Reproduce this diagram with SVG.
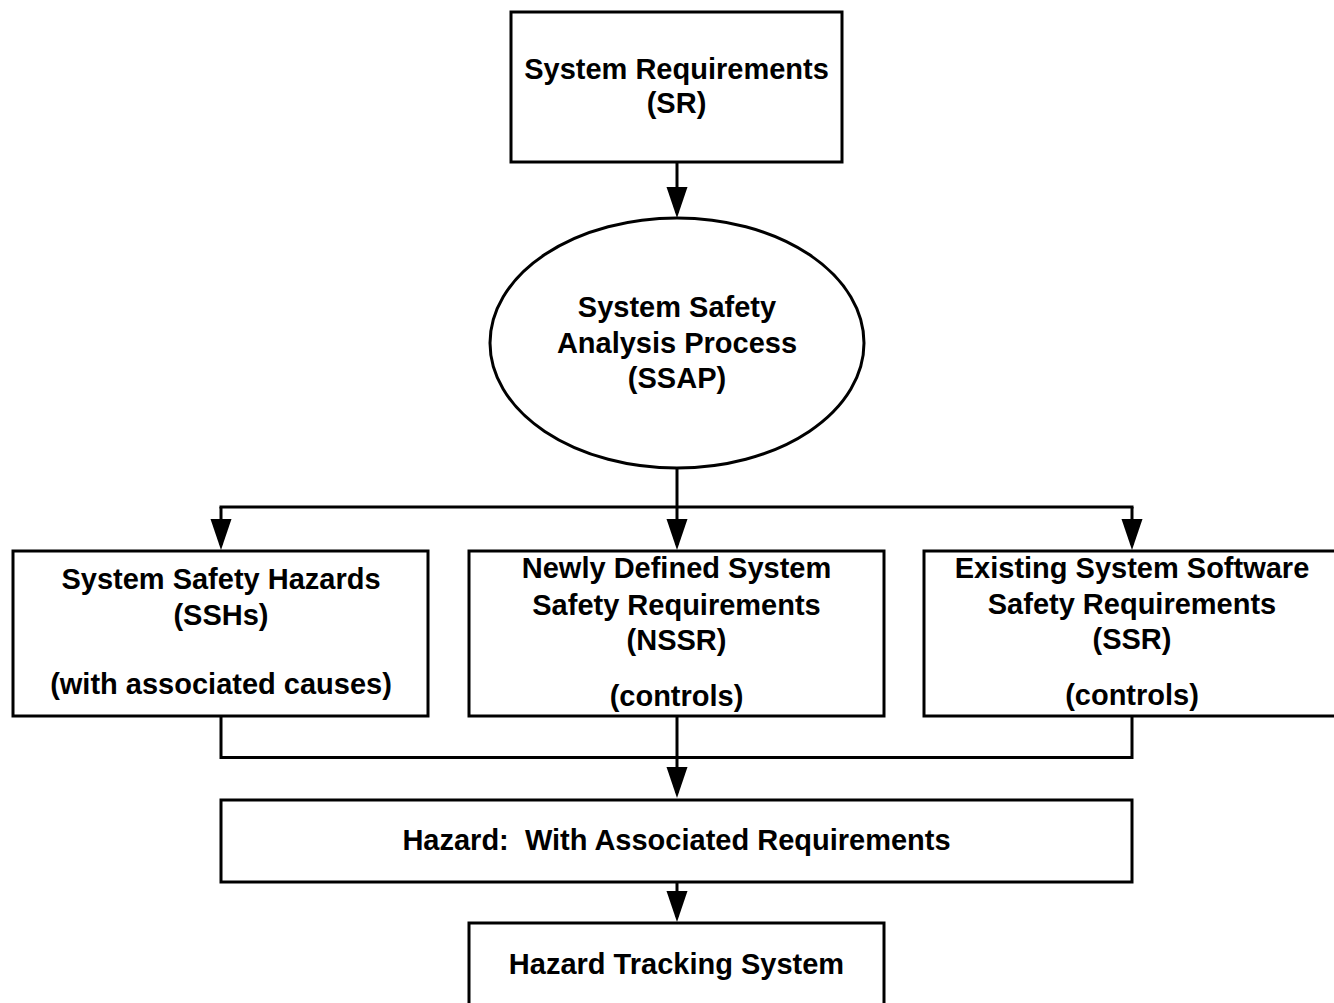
<svg xmlns="http://www.w3.org/2000/svg" width="1334" height="1003" viewBox="0 0 1334 1003">
<defs>
<style>
.box{fill:#fff;stroke:#000;stroke-width:3}
.ln{fill:none;stroke:#000;stroke-width:3}
.t{font-family:"Liberation Sans",Arial,sans-serif;font-weight:bold;font-size:29px;fill:#000;text-anchor:middle}
</style>
<marker id="ah" markerUnits="userSpaceOnUse" markerWidth="32" markerHeight="22" refX="26" refY="10.5" orient="auto" viewBox="0 0 32 22">
<path d="M0,0 L31,10.5 L0,21 Z" fill="#000"/>
</marker>
</defs>
<rect width="1334" height="1003" fill="#fff"/>
<g id="connectors">
<line class="ln" x1="677" y1="162" x2="677" y2="213" marker-end="url(#ah)"/>
<line class="ln" x1="677" y1="468" x2="677" y2="507"/>
<line class="ln" x1="219.5" y1="507" x2="1133.5" y2="507"/>
<line class="ln" x1="221" y1="507" x2="221" y2="545" marker-end="url(#ah)"/>
<line class="ln" x1="677" y1="507" x2="677" y2="545" marker-end="url(#ah)"/>
<line class="ln" x1="1132" y1="507" x2="1132" y2="545" marker-end="url(#ah)"/>
<path class="ln" d="M221,716 V757.5 H1132 V716"/>
<line class="ln" x1="677" y1="716" x2="677" y2="793" marker-end="url(#ah)"/>
<line class="ln" x1="677" y1="882" x2="677" y2="917" marker-end="url(#ah)"/>
</g>
<g id="sr">
<rect class="box" x="511" y="12" width="331" height="150"/>
<text class="t" x="676.5" y="79">System Requirements</text>
<text class="t" x="676.5" y="113">(SR)</text>
</g>
<g id="ssap">
<ellipse class="box" cx="677" cy="343" rx="187" ry="125"/>
<text class="t" x="677" y="317">System Safety</text>
<text class="t" x="677" y="353">Analysis Process</text>
<text class="t" x="677" y="388">(SSAP)</text>
</g>
<g id="ssh">
<rect class="box" x="13" y="551" width="415" height="165"/>
<text class="t" x="221" y="589">System Safety Hazards</text>
<text class="t" x="221" y="625">(SSHs)</text>
<text class="t" x="221" y="694">(with associated causes)</text>
</g>
<g id="nssr">
<rect class="box" x="469" y="551" width="415" height="165"/>
<text class="t" x="676.5" y="578">Newly Defined System</text>
<text class="t" x="676.5" y="615">Safety Requirements</text>
<text class="t" x="676.5" y="650">(NSSR)</text>
<text class="t" x="676.5" y="706">(controls)</text>
</g>
<g id="ssr">
<rect class="box" x="924" y="551" width="416" height="165"/>
<text class="t" x="1132" y="578">Existing System Software</text>
<text class="t" x="1132" y="614">Safety Requirements</text>
<text class="t" x="1132" y="649">(SSR)</text>
<text class="t" x="1132" y="705">(controls)</text>
</g>
<g id="hazard">
<rect class="box" x="221" y="800" width="911" height="82"/>
<text class="t" x="676.5" y="850">Hazard:&#160; With Associated Requirements</text>
</g>
<g id="hts">
<rect class="box" x="469" y="923" width="415" height="100"/>
<text class="t" x="676.5" y="974">Hazard Tracking System</text>
</g>
</svg>
